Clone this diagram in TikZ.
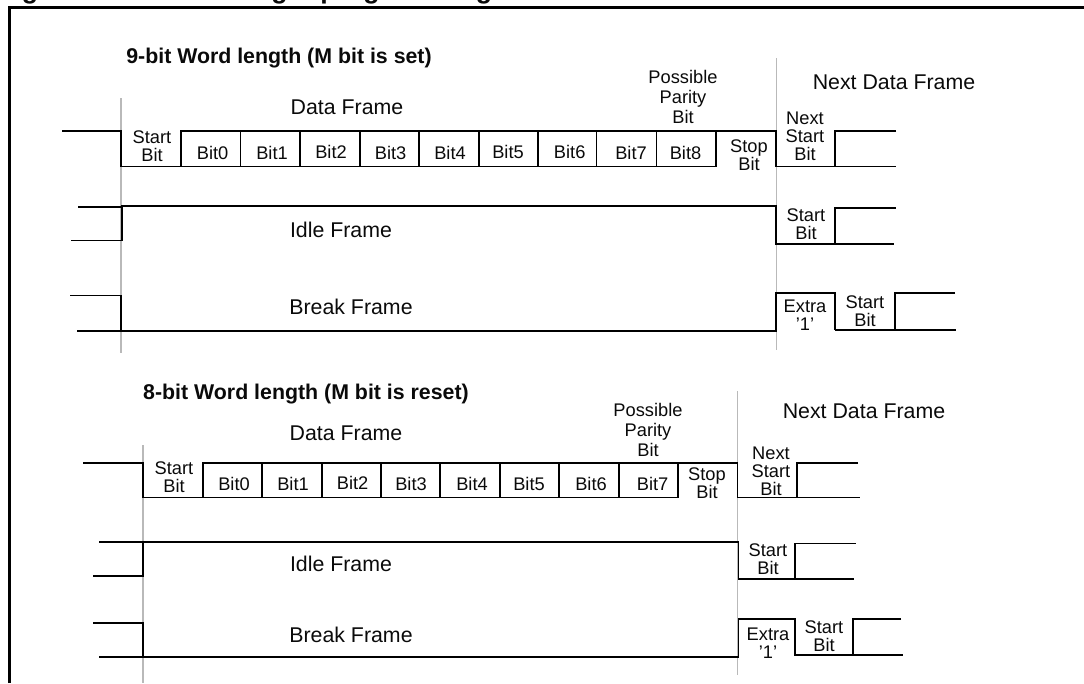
\documentclass[tikz,border=0pt]{standalone}
\usepackage{fontspec}
\setmainfont{Liberation Sans}
\usetikzlibrary{positioning, calc}
\definecolor{guidegrey}{RGB}{185,185,185}
\definecolor{inkblack}{RGB}{10,10,10}

\begin{document}
\begin{tikzpicture}[
    x=0.75pt, y=-0.75pt,
    every node/.style={text=inkblack, inner sep=0pt},
    wave/.style={draw=black, line width=1.4pt},
    guide/.style={draw=guidegrey, line width=1.1pt},
    border/.style={draw=black, line width=1.6pt},
    caption/.style={font=\bfseries\fontsize{20}{24}\selectfont, anchor=base},
    heading/.style={font=\bfseries\fontsize{16}{18}\selectfont},
    lbl/.style={font=\fontsize{16}{18}\selectfont},
    bitlbl/.style={font=\fontsize{13.7}{13.5}\selectfont, align=center},
    paritylbl/.style={font=\fontsize{13.7}{15}\selectfont, align=center},
]
\useasboundingbox (0,0) rectangle (1084,683);

% -------------------------------------------------------- figure caption ---
\node[caption] (figname) at (39,-2) {Figure};
\node[caption] (figtitle) at (325,-2) {Word length programming};
\draw[border] (9.5,683) -- (9.5,7.5) -- (1084,7.5);

% ------------------------------------------------------ 9-bit word length ---
\draw[guide] (121,98) -- (121,353);
\draw[guide] (776.5,58) -- (776.5,350);
\node[heading] (ninehead) at (279,58) {9-bit Word length (M bit is set)};
\node[lbl] (ninedata) at (347,107) {Data Frame};
\node[lbl] (ninenext) at (894,82) {Next Data Frame};
\node[paritylbl] (nineparity) at (683,97) {Possible\\Parity\\Bit};

% data frame
\draw[wave] (62,131) -- (121,131) -- (121,166.5) -- (716,166.5) -- (716,131);
\draw[wave] (181,166.5) -- (181,131) -- (776,131) -- (776,166.5) -- (835,166.5);
\draw[wave] (896,131) -- (835,131) -- (835,166.5) -- (896,166.5);
\foreach \x in {240.5,300,360,419,479,538,596.5,656.5}
  \draw[wave] (\x,131) -- (\x,166.5);
\foreach \i/\x/\y in {0/212.6/152.7,1/272/152.7,2/331/151.7,3/390.6/153,4/450/153,5/508/152,6/569.7/152,7/631/153,8/685.5/153}
  \node[bitlbl] (ninebit\i) at (\x,\y) {Bit\i};
\node[bitlbl] (ninestart) at (152,146) {Start\\Bit};
\node[bitlbl] (ninestop) at (749,155) {Stop\\Bit};
\node[bitlbl] (ninenextstart) at (805,136.7) {Next\\Start\\Bit};

% idle frame
\draw[wave] (78,207) -- (122,207);
\draw[wave] (71,240.5) -- (122,240.5) -- (122,206) -- (776,206) -- (776,244) -- (894,244);
\draw[wave] (835,244) -- (835,208) -- (896,208);
\node[lbl] (nineidle) at (341,230) {Idle Frame};
\node[bitlbl] (nineidlestart) at (806,224) {Start\\Bit};

% break frame
\draw[wave] (70,295.5) -- (121,295.5) -- (121,331);
\draw[wave] (77,331) -- (776,331) -- (776,293) -- (835,293) -- (835,330);
\draw[wave] (835,330) -- (956,330);
\draw[wave] (955,293) -- (895,293) -- (895,330);
\node[lbl] (ninebreak) at (351,307) {Break Frame};
\node[bitlbl] (nineextra) at (805,315) {Extra\\’1’};
\node[bitlbl] (ninebreakstart) at (865,311) {Start\\Bit};

% ------------------------------------------------------ 8-bit word length ---
\draw[guide] (143,445) -- (143,683);
\draw[guide] (737.5,391) -- (737.5,675);
\node[heading] (eighthead) at (306,394) {8-bit Word length (M bit is reset)};
\node[lbl] (eightdata) at (346,433) {Data Frame};
\node[lbl] (eightnext) at (864,411) {Next Data Frame};
\node[paritylbl] (eightparity) at (648,430) {Possible\\Parity\\Bit};

% data frame
\draw[wave] (83,463) -- (143,463) -- (143,497.5) -- (678,497.5) -- (678,463);
\draw[wave] (203,497.5) -- (203,463) -- (737.5,463) -- (737.5,497.5) -- (860,497.5);
\draw[wave] (858,463) -- (797,463) -- (797,497.5);
\foreach \x in {262,322,381,440,500,558.6,619}
  \draw[wave] (\x,463) -- (\x,497.5);
\foreach \i/\x/\y in {0/234/484,1/293/484,2/352.6/483,3/411/484,4/472/484,5/529/484,6/591/484,7/652.6/484}
  \node[bitlbl] (eightbit\i) at (\x,\y) {Bit\i};
\node[bitlbl] (eightstart) at (174,477) {Start\\Bit};
\node[bitlbl] (eightstop) at (707,483) {Stop\\Bit};
\node[bitlbl] (eightnextstart) at (771,471.7) {Next\\Start\\Bit};

% idle frame
\draw[wave] (93,576) -- (143,576) -- (143,542);
\draw[wave] (99,542) -- (738.5,542) -- (738.5,579) -- (853.5,579);
\draw[wave] (795,579) -- (795,543.5) -- (856,543.5);
\node[lbl] (eightidle) at (341,564) {Idle Frame};
\node[bitlbl] (eightidlestart) at (768,559) {Start\\Bit};

% break frame
\draw[wave] (93,622.7) -- (143,622.7) -- (143,656.7);
\draw[wave] (99,656.7) -- (738.5,656.7) -- (738.5,619.3) -- (795,619.3) -- (795,654.7) -- (902.5,654.7);
\draw[wave] (901,619.3) -- (853,619.3) -- (853,654.7);
\node[lbl] (eightbreak) at (351,635) {Break Frame};
\node[bitlbl] (eightextra) at (768,643) {Extra\\’1’};
\node[bitlbl] (eightbreakstart) at (824,636) {Start\\Bit};

\end{tikzpicture}
\end{document}
